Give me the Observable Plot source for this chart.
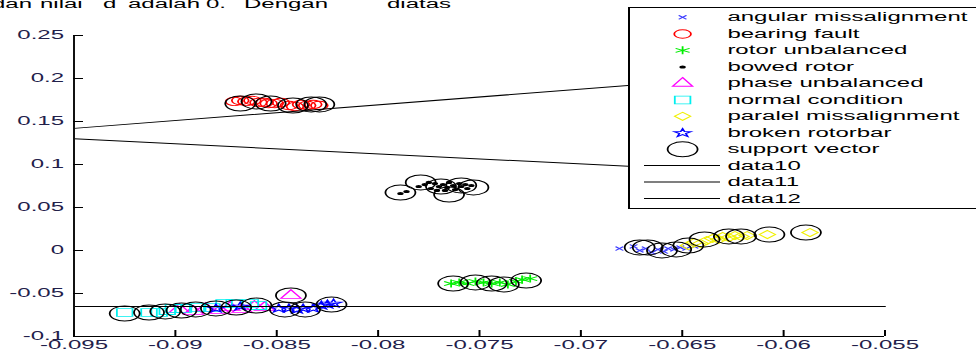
<!DOCTYPE html>
<html><head><meta charset="utf-8">
<script src="https://cdn.jsdelivr.net/npm/d3@7"></script>
<script src="https://cdn.jsdelivr.net/npm/@observablehq/plot@0.6"></script>
<style>
html,body{margin:0;padding:0;background:#fff;overflow:hidden;}
#chart{width:488px;height:356px;transform:scaleX(2);transform-origin:0 0;}
</style></head><body><div id="chart"></div>
<script>
// ---- axes ----
const xDomain = [-0.095, -0.055];
const yDomain = [-0.1, 0.25];
const xTicks = [-0.095, -0.09, -0.085, -0.08, -0.075, -0.07, -0.065, -0.06, -0.055];
const xTickLabels = ["-0.095", "-0.09", "-0.085", "-0.08", "-0.075", "-0.07", "-0.065", "-0.06", "-0.055"];
const yTicks = [-0.1, -0.05, 0, 0.05, 0.1, 0.15, 0.2, 0.25];
const yTickLabels = ["-0.1", "-0.05", "0", "0.05", "0.1", "0.15", "0.2", "0.25"];

// ---- classes ----
const angularX = [-0.0681, -0.0674, -0.0671, -0.0668, -0.0665, -0.0662, -0.0659, -0.0657, -0.0654, -0.0651, -0.0648, -0.0644];
const angularY = [0.0023, 0.0047, 0.0000, 0.0023, -0.0023, 0.0012, -0.0012, 0.0023, 0.0012, 0.0035, 0.0023, 0.0047];

const bearingX = [-0.0871, -0.0868, -0.0865, -0.0862, -0.0859, -0.0856, -0.0854, -0.0851, -0.0848, -0.0844, -0.0841, -0.0838, -0.0835, -0.0832, -0.0829];
const bearingY = [0.1733, 0.1744, 0.1733, 0.1744, 0.1721, 0.1721, 0.1709, 0.1709, 0.1721, 0.1686, 0.1674, 0.1698, 0.1686, 0.1698, 0.1686];

const rotorX = [-0.0764, -0.0760, -0.0756, -0.0752, -0.0748, -0.0744, -0.0740, -0.0736, -0.0732, -0.0729, -0.0725];
const rotorY = [-0.0384, -0.0372, -0.0384, -0.0360, -0.0372, -0.0384, -0.0372, -0.0395, -0.0360, -0.0337, -0.0326];

const bowedX = [-0.0789, -0.0786, -0.0780, -0.0777, -0.0774, -0.0772, -0.0770, -0.0768, -0.0766, -0.0765, -0.0763, -0.0762, -0.0760, -0.0759, -0.0757, -0.0756, -0.0754, -0.0771, -0.0767, -0.0775];
const bowedY = [0.0663, 0.0686, 0.0744, 0.0767, 0.0721, 0.0779, 0.0744, 0.0767, 0.0733, 0.0791, 0.0756, 0.0709, 0.0779, 0.0744, 0.0767, 0.0721, 0.0756, 0.0698, 0.0698, 0.0791];

const phaseX = [-0.0898, -0.0891, -0.0885, -0.0878, -0.0873, -0.0867, -0.0861, -0.0856, -0.0843];
const phaseY = [-0.0686, -0.0709, -0.0674, -0.0698, -0.0663, -0.0686, -0.0651, -0.0663, -0.0523];

const normalX = [-0.0925, -0.0913, -0.0908, -0.0904, -0.0901, -0.0896, -0.0889, -0.0882, -0.0876, -0.0871, -0.0863, -0.0859];
const normalY = [-0.0721, -0.0721, -0.0721, -0.0698, -0.0674, -0.0674, -0.0663, -0.0663, -0.0616, -0.0616, -0.0616, -0.0640];

const paralelX = [-0.0647, -0.0644, -0.0641, -0.0638, -0.0635, -0.0632, -0.0630, -0.0627, -0.0624, -0.0621, -0.0618, -0.0608, -0.0587];
const paralelY = [0.0058, 0.0093, 0.0081, 0.0116, 0.0140, 0.0128, 0.0163, 0.0151, 0.0174, 0.0163, 0.0174, 0.0186, 0.0209];

const brokenX = [-0.0849, -0.0844, -0.0840, -0.0837, -0.0832, -0.0828, -0.0825, -0.0822, -0.0880, -0.0868];
const brokenY = [-0.0674, -0.0674, -0.0686, -0.0674, -0.0674, -0.0640, -0.0628, -0.0616, -0.0674, -0.0651];

const supportX = [-0.0868, -0.0860, -0.0853, -0.0842, -0.0833, -0.0829,
  -0.0789, -0.0779, -0.0765, -0.0753, -0.0769, -0.0759,
  -0.0763, -0.0752, -0.0738, -0.0727, -0.0744,
  -0.0671, -0.0667, -0.0660, -0.0653, -0.0647, -0.0639, -0.0627, -0.0621, -0.0607, -0.0589,
  -0.0925, -0.0913, -0.0905, -0.0897, -0.0890, -0.0880, -0.0870, -0.0860, -0.0843, -0.0846, -0.0836, -0.0823];
const supportY = [0.1709, 0.1733, 0.1709, 0.1686, 0.1698, 0.1698,
  0.0674, 0.0791, 0.0651, 0.0733, 0.0744, 0.0756,
  -0.0384, -0.0372, -0.0395, -0.0349, -0.0384,
  0.0035, 0.0035, 0.0000, 0.0012, 0.0058, 0.0128, 0.0163, 0.0163, 0.0186, 0.0209,
  -0.0733, -0.0721, -0.0709, -0.0698, -0.0686, -0.0674, -0.0663, -0.0640, -0.0523, -0.0686, -0.0686, -0.0628];

// ---- separating lines ----
const data10X = [-0.095, -0.055];
const data10Y = [0.1420, 0.2150];
const data11X = [-0.095, -0.055];
const data11Y = [0.1300, 0.0830];
const data12X = [-0.095, -0.055];
const data12Y = [-0.0652, -0.0652];

// ---- legend / header text ----
const legendLabels = ["angular missalignment", "bearing fault", "rotor unbalanced", "bowed rotor", "phase unbalanced", "normal condition", "paralel missalignment", "broken rotorbar", "support vector", "data10", "data11", "data12"];
const headerWords = ["dan", "nilai", "d", "adalah", "0.", "Dengan", "diatas"];

const pts = (xs, ys) => xs.map((x, i) => ({x, y: ys[i]}));
const FONT = "'Liberation Sans', Arial, sans-serif";
const tickColor = "#22204a";

const styles = [
  {data: pts(angularX, angularY), symbol: d3.symbolTimes, r: 1.9, stroke: "#3a3aff", fill: "none"},
  {data: pts(bearingX, bearingY), symbol: d3.symbolCircle, r: 4.2, stroke: "#ff0000", fill: "none"},
  {data: pts(rotorX, rotorY), symbol: d3.symbolAsterisk, r: 3.8, stroke: "#00ee00", fill: "none"},
  {data: pts(bowedX, bowedY), symbol: d3.symbolCircle, r: 1.6, stroke: "none", fill: "#000000"},
  {data: pts(phaseX, phaseY), symbol: d3.symbolTriangle, r: 3.7, stroke: "#ff00ff", fill: "none"},
  {data: pts(normalX, normalY), symbol: d3.symbolSquare, r: 4.4, stroke: "#00f0f0", fill: "none"},
  {data: pts(paralelX, paralelY), symbol: d3.symbolDiamond2, r: 3.6, stroke: "#f0f000", fill: "none"},
  {data: pts(brokenX, brokenY), symbol: d3.symbolStar, r: 2.6, stroke: "#0000ff", fill: "none"},
  {data: pts(supportX, supportY), symbol: d3.symbolCircle, r: 7.5, stroke: "#000000", fill: "none"}
];

const chart = Plot.plot({
  width: 488, height: 356,
  marginLeft: 36.5, marginRight: 46, marginTop: 35, marginBottom: 20,
  x: {domain: xDomain, axis: null},
  y: {domain: yDomain, axis: null},
  style: {fontFamily: FONT, fontSize: "12px", background: "white", color: "black"},
  marks: [
    ...styles.map(s => Plot.dot(s.data, {x: "x", y: "y", symbol: s.symbol, r: s.r, stroke: s.stroke, fill: s.fill, strokeWidth: 0.9})),
    Plot.line(pts(data10X, data10Y), {x: "x", y: "y", stroke: "#000", strokeWidth: 1}),
    Plot.line(pts(data11X, data11Y), {x: "x", y: "y", stroke: "#000", strokeWidth: 1}),
    Plot.line(pts(data12X, data12Y), {x: "x", y: "y", stroke: "#000", strokeWidth: 1}),
    // axis lines
    Plot.ruleY([yDomain[0]], {y: d => d, x1: xDomain[0], x2: xDomain[1], stroke: "#000", strokeWidth: 1}),
    Plot.ruleX([xDomain[0]], {x: d => d, y1: yDomain[0], y2: yDomain[1], stroke: "#111", strokeWidth: 1}),
    // inward ticks
    Plot.ruleX(xTicks, {x: d => d, y1: yDomain[0], y2: yDomain[0], insetBottom: 6, stroke: "#000", strokeWidth: 1}),
    Plot.ruleY(yTicks, {y: d => d, x1: xDomain[0], x2: xDomain[0], insetRight: -5, stroke: "#000", strokeWidth: 1}),
    // tick labels
    Plot.text(xTicks, {x: d => d, y: yDomain[0], text: (d, i) => xTickLabels[i], dy: 9, lineAnchor: "middle", fill: tickColor, fontSize: 12}),
    Plot.text(yTicks, {x: xDomain[0], y: d => d, text: (d, i) => yTickLabels[i], textAnchor: "end", dx: -5, lineAnchor: "middle", fill: tickColor, fontSize: 12})
  ]
});
document.getElementById("chart").appendChild(chart);

// ---- header text (cropped document text above the figure) ----
const svg = d3.select(chart);
const headerX = [-4, 20, 51.5, 64, 103, 122, 193.5];
const hg = svg.append("g").attr("font-family", FONT).attr("font-size", 12).attr("fill", "#000").attr("text-anchor", "start");
headerWords.forEach((w, i) => hg.append("text").attr("x", headerX[i]).attr("y", 8).attr("text-anchor", "start").text(w));

// ---- legend ----
const lg = svg.append("g").attr("font-family", FONT).attr("font-size", 12).attr("text-anchor", "start");
lg.append("rect").attr("x", 314.5).attr("y", 7.5).attr("width", 176).attr("height", 201)
  .attr("fill", "white").attr("stroke", "#000").attr("stroke-width", 1);
const rowY = [17.3, 34, 50.3, 67, 83.3, 100, 116.3, 133, 149.3, 165.5, 182, 198.5];
legendLabels.forEach((label, i) => {
  const y = rowY[i];
  if (i < styles.length) {
    const s = styles[i];
    lg.append("path")
      .attr("transform", `translate(341.3,${y})`)
      .attr("d", d3.symbol(s.symbol, Math.PI * s.r * s.r)())
      .attr("fill", s.fill).attr("stroke", s.stroke).attr("stroke-width", 0.9);
  } else {
    lg.append("line").attr("x1", 322).attr("x2", 360).attr("y1", y).attr("y2", y)
      .attr("stroke", "#000").attr("stroke-width", 1);
  }
  lg.append("text").attr("x", 363.7).attr("y", y).attr("dy", "0.35em").attr("text-anchor", "start").attr("fill", "#000").text(label);
});
</script></body></html>
